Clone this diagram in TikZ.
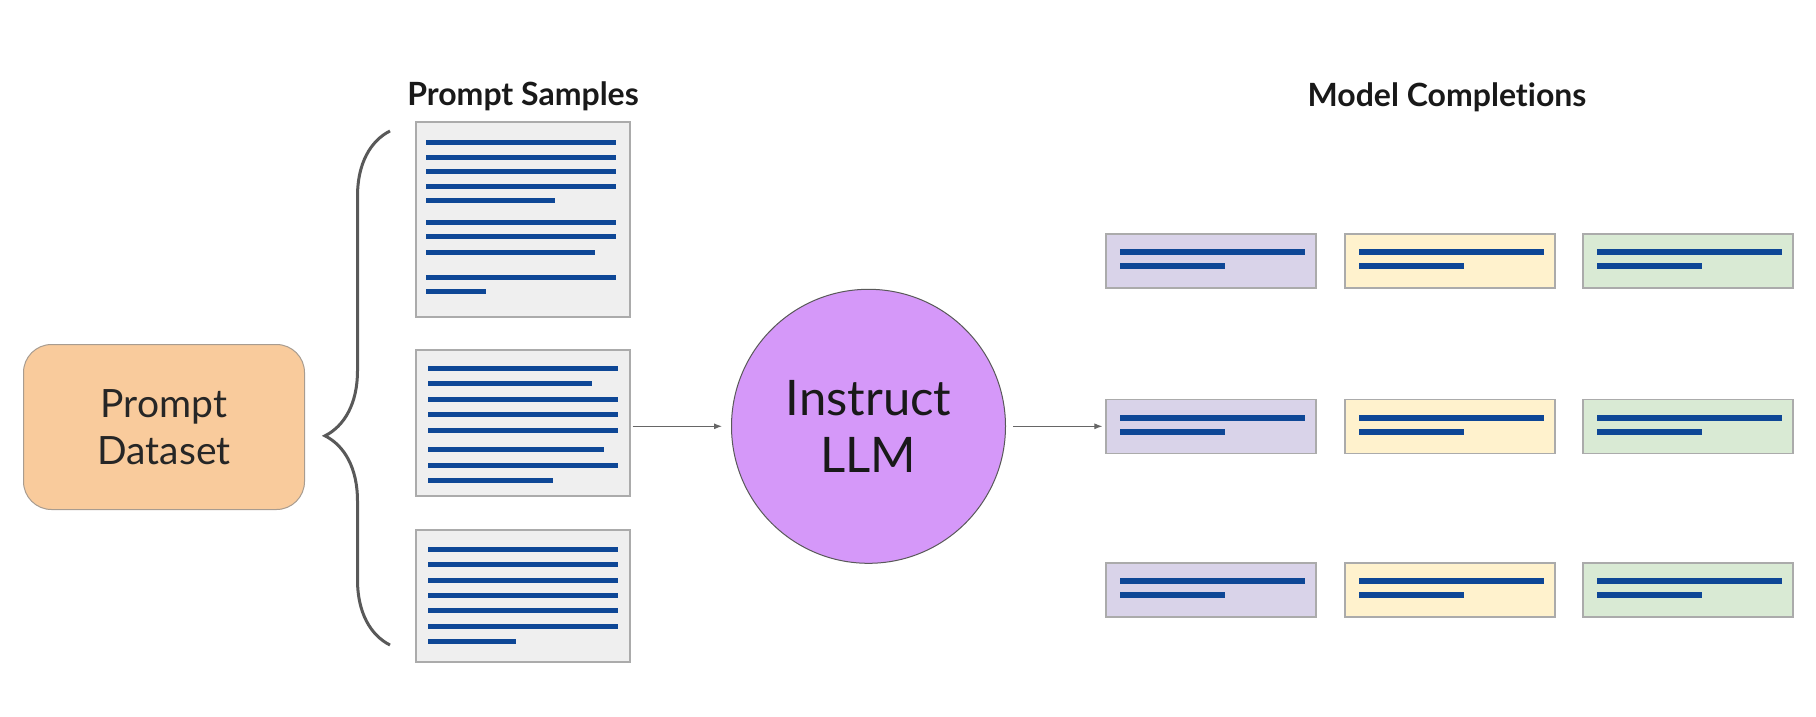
\documentclass[tikz,border=0pt]{standalone}
\usepackage{fontspec}
\setmainfont{Lato}[Ligatures={NoCommon,NoRequired}, Contextuals=NoAlternate]
\usetikzlibrary{arrows.meta, decorations.pathreplacing}

\definecolor{peach}{HTML}{F9CB9C}
\definecolor{peachedge}{HTML}{A89C90}
\definecolor{paper}{HTML}{EFEFEF}
\definecolor{paperedge}{HTML}{ABABAB}
\definecolor{ink}{HTML}{0E4796}
\definecolor{violet}{HTML}{D598F9}
\definecolor{lilac}{HTML}{D9D3E9}
\definecolor{cream}{HTML}{FFF2CD}
\definecolor{mint}{HTML}{D9EAD4}

\begin{document}
\begin{tikzpicture}[x=1pt, y=-1pt,
dataset/.style={draw=peachedge, fill=peach, rounded corners=28pt, line width=1pt,
  minimum width=281pt, minimum height=165pt, align=center, text=black!85,
  font=\fontsize{39}{47}\selectfont},
sample/.style={draw=paperedge, fill=paper, line width=1.2pt, minimum width=214pt, inner sep=0pt},
completion/.style={draw=paperedge, line width=1.2pt, minimum width=210pt, minimum height=54pt, inner sep=0pt},
model/.style={circle, draw=black!65, fill=violet, line width=1pt, minimum size=274pt,
  align=center, text=black!90, font=\fontsize{49}{57}\selectfont},
heading/.style={anchor=base, font=\fontsize{32}{38}\selectfont\bfseries, text=black!90},
txt/.style={draw=ink, line width=5pt},
flow/.style={draw=black!60, line width=1pt, -{Latex[length=8pt,width=6pt]}}
]
\useasboundingbox (0,0) rectangle (1816,716);
\fill[white] (0,0) rectangle (1816,716);

% left side
\node[dataset] (data) at (164,427) {Prompt\\Dataset};
\coordinate (braceBot) at (390,645);
\coordinate (braceTop) at (390,131);
\draw[black!65, line width=3pt, decorate, decoration={brace, amplitude=65pt, aspect=0.407}]
  (braceBot) -- (braceTop);

\node[heading] (samplesTitle) at (523,105) {Prompt Samples};
\node[sample, minimum height=195pt] (doc1) at (523,219.5) {};
\node[sample, minimum height=146pt] (doc2) at (523,423) {};
\node[sample, minimum height=132pt] (doc3) at (523,596) {};

\foreach \y/\e in {142/616, 157/616, 171/616, 186/616, 200/555,
                   222/616, 236/616, 252/595, 277/616, 291/486}
  \draw[txt] (426,\y) -- (\e,\y);
\foreach \y/\e in {368/618, 383/592, 399/618, 414/618, 430/618,
                   449/604, 465/618, 480/553}
  \draw[txt] (428,\y) -- (\e,\y);
\foreach \y/\e in {549/618, 564/618, 580/618, 595/618, 610/618,
                   626/618, 641/516}
  \draw[txt] (428,\y) -- (\e,\y);

% model
\node[model] (llm) at (868.5,426.3) {Instruct\\LLM};

% right side
\node[heading] (complTitle) at (1447,106) {Model Complet\kern0pt ions};
\foreach \c/\x/\col in {1/1211/lilac, 2/1450/cream, 3/1688/mint}
  \foreach \r/\y in {1/261, 2/426.5, 3/590} {
    \node[completion, fill=\col] (c\r\c) at (\x,\y) {};
    \draw[txt, line width=6pt] (\x-91,\y-9) -- (\x+94,\y-9);
    \draw[txt, line width=6pt] (\x-91,\y+5) -- (\x+14,\y+5);
  }

\draw[flow, shorten <=2pt, shorten >=9pt] (llm.west -| doc2.east) -- (llm.west);
\draw[flow, shorten <=7pt, shorten >=3pt] (llm.east) -- (llm.east -| c21.west);

\end{tikzpicture}
\end{document}
